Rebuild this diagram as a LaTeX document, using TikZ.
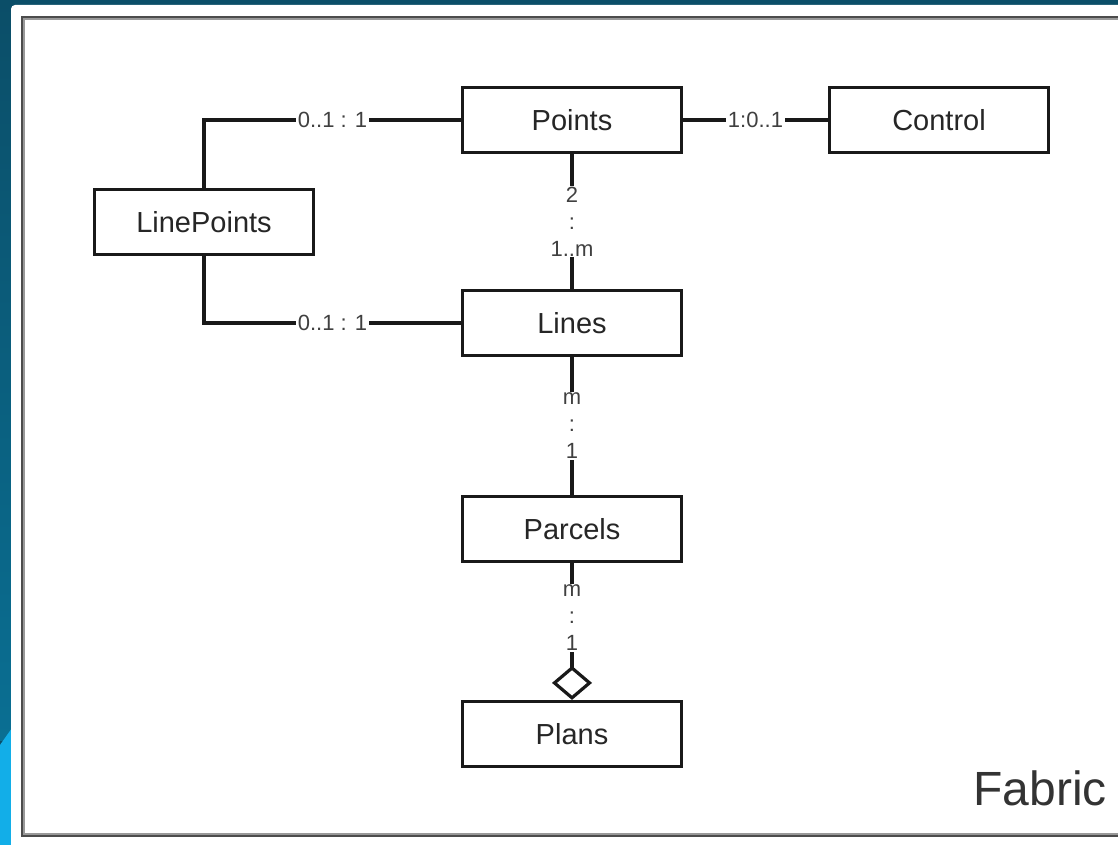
\documentclass[tikz,border=0pt]{standalone}
\usepackage{fontspec}
\setmainfont{Liberation Sans}
\usetikzlibrary{arrows.meta}
\definecolor{deepteal}{HTML}{0B4E68}
\definecolor{midteal}{HTML}{0A6F93}
\definecolor{skyblue}{HTML}{12AEE8}
\begin{document}
\begin{tikzpicture}[x=1pt,y=-1pt,
		entity/.style={draw=black!90,line width=3.2pt,fill=white,minimum width=219pt,minimum height=65pt,inner sep=0pt,font=\fontsize{29}{34}\selectfont,text=black!85},
		link/.style={line width=3.2pt,draw=black!90},
		mult/.style={fill=white,inner sep=2pt,font=\fontsize{22}{27}\selectfont,text=black!75},
		vmult/.style={mult,align=center,inner sep=1pt}]
		\useasboundingbox (0,0) rectangle (1118,845);
		% background and frame
		\fill[deepteal] (0,0) rectangle (1118,845);
		\shade[top color=deepteal,bottom color=midteal] (0,0) rectangle (12,740);
		\fill[skyblue] (0,745) -- (12,728) -- (12,845) -- (0,845) -- cycle;
		\fill[white,rounded corners=4pt] (11,5) rectangle (1140,870);
		\draw[black!40,line width=4.5pt] (23,18) rectangle (1140,835);
		\draw[black!70,line width=2.5pt] (22,17) rectangle (1140,836);
		% tables
		\node[entity] (points) at (572,120) {Points};
		\node[entity] (control) at (939,120) {Control};
		\node[entity] (linepoints) at (204,222) {LinePoints};
		\node[entity] (lines) at (572,323) {Lines};
		\node[entity] (parcels) at (572,529) {Parcels};
		\node[entity] (plans) at (572,734) {Plans};
		% relationships
		\draw[link] (linepoints.north) |- node[mult,pos=0.75]{0..1 : 1} (points.west);
		\draw[link] (linepoints.south) |- node[mult,pos=0.75]{0..1 : 1} (lines.west);
		\draw[link] (points.east) -- node[mult]{1:0..1} (control.west);
		\draw[link] (points.south) -- node[vmult]{2\\:\\1..m} (lines.north);
		\draw[link] (lines.south) -- node[vmult]{m\\:\\1} (parcels.north);
		\draw[link,-{Diamond[open,length=34pt,width=40pt]}] (parcels.south) -- node[vmult,pos=0.4]{m\\:\\1} (plans.north);
		\node[font=\fontsize{48}{56}\selectfont,text=black!80] (title) at (1040,788) {Fabric};
\end{tikzpicture}
\end{document}
